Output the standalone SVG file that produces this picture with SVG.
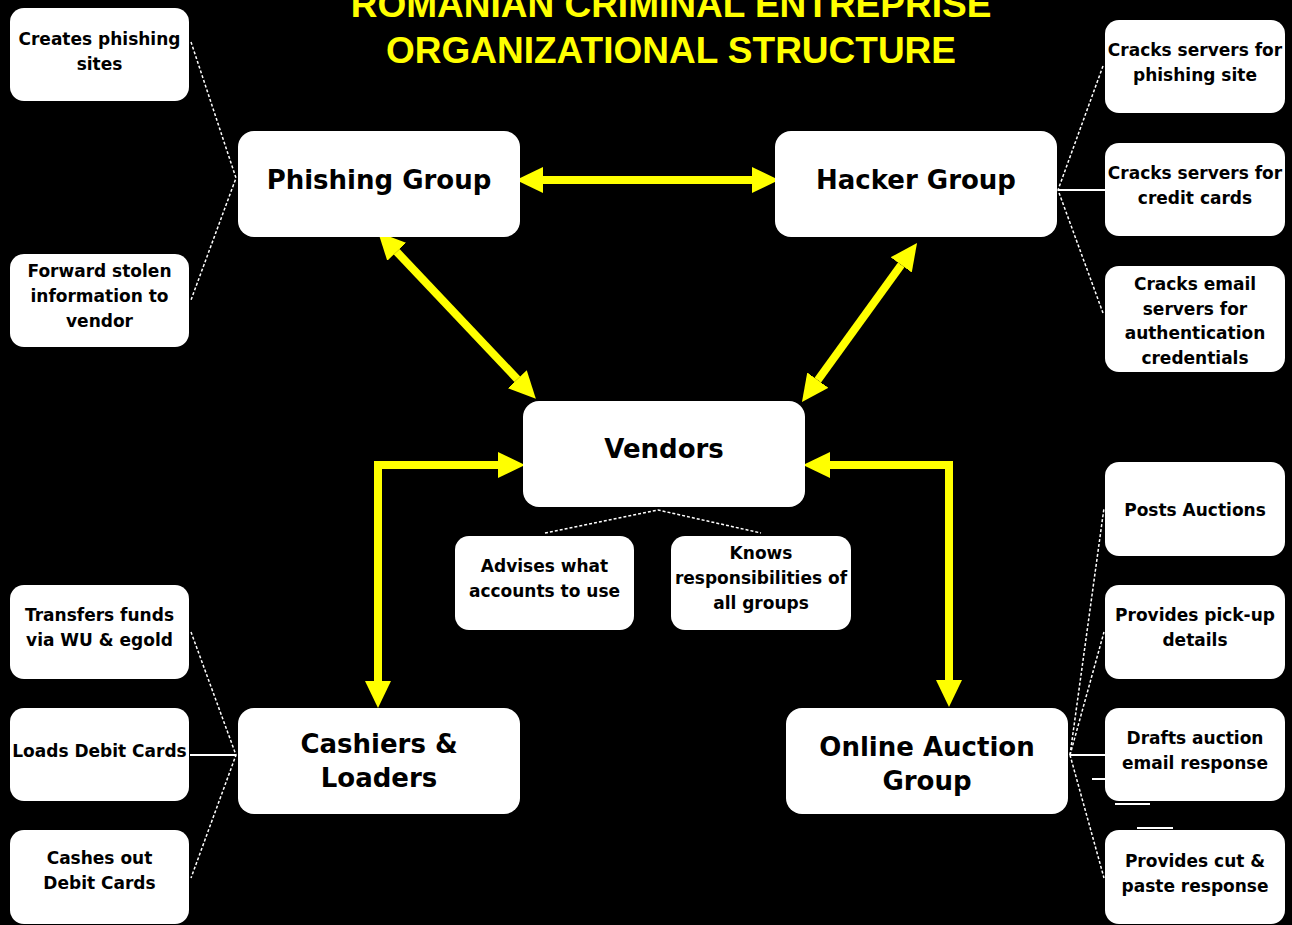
<svg xmlns="http://www.w3.org/2000/svg" width="1292" height="925" viewBox="0 0 1292 925">
<style>
.bg{fill:#000}
.box{fill:#fff;stroke:none}
.t{font-family:"DejaVu Sans",Verdana,sans-serif;font-weight:bold;font-size:17px;fill:#000;text-anchor:middle}
.tm{font-family:"DejaVu Sans",Verdana,sans-serif;font-weight:bold;font-size:26px;fill:#000;text-anchor:middle}
.title{font-family:"Liberation Sans",Arial,sans-serif;font-weight:bold;font-size:37px;fill:#ffff00;text-anchor:middle}
.dash{stroke:#fff;stroke-width:1.5;stroke-dasharray:3 2;fill:none}
.solid{stroke:#fff;stroke-width:2;fill:none}
.arr{stroke:#ffff00;stroke-width:8;fill:none;stroke-linejoin:miter;marker-start:url(#ah);marker-end:url(#ah)}
</style>
<defs>
<marker id="ah" markerUnits="userSpaceOnUse" markerWidth="27" markerHeight="26" refX="0" refY="13" orient="auto-start-reverse" viewBox="0 0 27 26">
<path d="M0,0 L27,13 L0,26 z" fill="#ffff00"/>
</marker>
</defs>
<rect class="bg" x="0" y="0" width="1292" height="925"/>
<g id="title">
<text class="title" x="671" y="17">ROMANIAN CRIMINAL ENTREPRISE</text>
<text class="title" x="671" y="63">ORGANIZATIONAL STRUCTURE</text>
</g>
<g id="connectors">
<polyline class="dash" points="191,42 236,178 191,300"/>
<polyline class="dash" points="191,632 236,755 191,878"/>
<line class="solid" x1="190" y1="755" x2="236" y2="755"/>
<polyline class="dash" points="1103,66 1058,190 1103,313"/>
<line class="solid" x1="1058" y1="190" x2="1105" y2="190"/>
<line class="dash" x1="1070" y1="755" x2="1104" y2="508"/>
<line class="dash" x1="1070" y1="755" x2="1104" y2="632"/>
<line class="dash" x1="1070" y1="755" x2="1104" y2="878"/>
<line class="solid" x1="1070" y1="755" x2="1105" y2="755"/>
<line class="solid" x1="1092" y1="779" x2="1106" y2="779"/>
<line class="solid" x1="1115" y1="804" x2="1150" y2="804"/>
<line class="solid" x1="1137" y1="828" x2="1173" y2="828"/>
<polyline class="dash" points="545,533 658,510 761,533"/>
<path class="arr" d="M543,180 H752"/>
<path class="arr" d="M396.7,251.8 L517.3,379.2"/>
<path class="arr" d="M901.2,264.9 L817.8,380.1"/>
<path class="arr" d="M498,465 H378 V681"/>
<path class="arr" d="M830,465 H949 V680"/>
</g>
<g id="phishing-group"><rect class="box" x="238" y="131" width="282" height="106" rx="16"/><text class="tm" x="379" y="189">Phishing Group</text></g>
<g id="hacker-group"><rect class="box" x="775" y="131" width="282" height="106" rx="16"/><text class="tm" x="916" y="189">Hacker Group</text></g>
<g id="vendors"><rect class="box" x="523" y="401" width="282" height="106" rx="16"/><text class="tm" x="664" y="458">Vendors</text></g>
<g id="cashiers-loaders"><rect class="box" x="238" y="708" width="282" height="106" rx="16"/><text class="tm" x="379" y="753">Cashiers &amp;</text><text class="tm" x="379" y="787">Loaders</text></g>
<g id="online-auction-group"><rect class="box" x="786" y="708" width="282" height="106" rx="16"/><text class="tm" x="927" y="756">Online Auction</text><text class="tm" x="927" y="790">Group</text></g>
<g id="creates-phishing"><rect class="box" x="10" y="8" width="179" height="93" rx="14"/><text class="t" x="99.5" y="45">Creates phishing</text><text class="t" x="99.5" y="70">sites</text></g>
<g id="forward-stolen"><rect class="box" x="10" y="254" width="179" height="93" rx="14"/><text class="t" x="99.5" y="277">Forward stolen</text><text class="t" x="99.5" y="302">information to</text><text class="t" x="99.5" y="327">vendor</text></g>
<g id="cracks-phishing"><rect class="box" x="1105" y="20" width="180" height="93" rx="14"/><text class="t" x="1195" y="56">Cracks servers for</text><text class="t" x="1195" y="81">phishing site</text></g>
<g id="cracks-credit"><rect class="box" x="1105" y="143" width="180" height="93" rx="14"/><text class="t" x="1195" y="179">Cracks servers for</text><text class="t" x="1195" y="204">credit cards</text></g>
<g id="cracks-email"><rect class="box" x="1105" y="266" width="180" height="106" rx="14"/><text class="t" x="1195" y="290">Cracks email</text><text class="t" x="1195" y="315">servers for</text><text class="t" x="1195" y="339">authentication</text><text class="t" x="1195" y="364">credentials</text></g>
<g id="advises"><rect class="box" x="455" y="536" width="179" height="94" rx="14"/><text class="t" x="544.5" y="572">Advises what</text><text class="t" x="544.5" y="597">accounts to use</text></g>
<g id="knows"><rect class="box" x="671" y="536" width="180" height="94" rx="14"/><text class="t" x="761" y="559">Knows</text><text class="t" x="761" y="584">responsibilities of</text><text class="t" x="761" y="609">all groups</text></g>
<g id="posts-auctions"><rect class="box" x="1105" y="462" width="180" height="94" rx="14"/><text class="t" x="1195" y="516">Posts Auctions</text></g>
<g id="pickup"><rect class="box" x="1105" y="585" width="180" height="94" rx="14"/><text class="t" x="1195" y="621">Provides pick-up</text><text class="t" x="1195" y="646">details</text></g>
<g id="drafts"><rect class="box" x="1105" y="708" width="180" height="93" rx="14"/><text class="t" x="1195" y="744">Drafts auction</text><text class="t" x="1195" y="769">email response</text></g>
<g id="cut-paste"><rect class="box" x="1105" y="830" width="180" height="94" rx="14"/><text class="t" x="1195" y="867">Provides cut &amp;</text><text class="t" x="1195" y="892">paste response</text></g>
<g id="transfers"><rect class="box" x="10" y="585" width="179" height="94" rx="14"/><text class="t" x="99.5" y="621">Transfers funds</text><text class="t" x="99.5" y="646">via WU &amp; egold</text></g>
<g id="loads"><rect class="box" x="10" y="708" width="179" height="93" rx="14"/><text class="t" x="99.5" y="757">Loads Debit Cards</text></g>
<g id="cashes"><rect class="box" x="10" y="830" width="179" height="94" rx="14"/><text class="t" x="99.5" y="864">Cashes out</text><text class="t" x="99.5" y="889">Debit Cards</text></g>
</svg>
